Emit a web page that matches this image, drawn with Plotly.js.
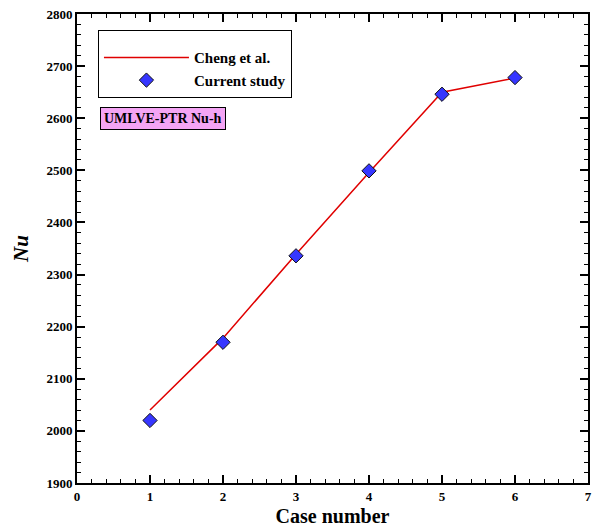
<!DOCTYPE html>
<html><head><meta charset="utf-8">
<script src="https://cdn.plot.ly/plotly-3.0.1.min.js"></script>
<style>html,body{margin:0;padding:0;background:#fff}#chart{width:595px;height:527px}</style>
</head><body><div id="chart"></div>
<script>
const caseNumbers = [1, 2, 3, 4, 5, 6];
const chengNu = [2040, 2178, 2339, 2496, 2650, 2677];
const currentNu = [2020, 2170, 2336, 2499, 2646, 2678];
const seriesNames = ["Cheng et al.", "Current study"];
const labelText = "UMLVE-PTR Nu-h";

const serif = "Liberation Serif, Times New Roman, serif";
const traces = [
  {x: caseNumbers, y: chengNu, name: seriesNames[0], mode: "lines",
   line: {color: "#e00000", width: 1.5}},
  {x: caseNumbers, y: currentNu, name: seriesNames[1], mode: "markers",
   marker: {symbol: "diamond", size: 11, color: "#3636ff", line: {color: "#111", width: 1}}}
];
const axisCommon = {
  showline: true, linecolor: "black", linewidth: 2, mirror: "ticks",
  ticks: "inside", ticklen: 8, tickwidth: 2, tickcolor: "black",
  showgrid: false, zeroline: false,
  tickfont: {family: serif, size: 13, color: "black", weight: "bold"}
};
const layout = {
  width: 595, height: 527,
  margin: {l: 77, r: 7, t: 14, b: 44},
  paper_bgcolor: "white", plot_bgcolor: "white",
  showlegend: true,
  xaxis: Object.assign({}, axisCommon, {
    range: [0, 7], dtick: 1, tick0: 0,
    minor: {ticks: "inside", ticklen: 4, tickwidth: 1, tickcolor: "black", dtick: 0.2},
    title: {text: "Case number", standoff: 7, font: {family: serif, size: 20, color: "black", weight: "bold"}}
  }),
  yaxis: Object.assign({}, axisCommon, {
    range: [1900, 2800], dtick: 100, tick0: 1900,
    minor: {ticks: "inside", ticklen: 4, tickwidth: 1, tickcolor: "black", dtick: 20},
    title: {text: "Nu", standoff: 12, font: {family: serif, size: 21, color: "black", weight: "bold", style: "italic"}}
  }),
  legend: {
    x: 0.041, y: 0.966, xanchor: "left", yanchor: "top",
    bordercolor: "black", borderwidth: 1, bgcolor: "white",
    itemwidth: 85,
    title: {text: " ", font: {family: serif, size: 8}},
    font: {family: serif, size: 15, color: "black", weight: "bold"},
    tracegroupgap: 0
  },
  annotations: [{
    text: labelText, xref: "paper", yref: "paper", x: 0.045, y: 0.802,
    xanchor: "left", yanchor: "top", showarrow: false,
    font: {family: serif, size: 14, color: "black", weight: "bold"},
    bgcolor: "#f4a4f4", bordercolor: "black", borderwidth: 1, borderpad: 3
  }]
};
Plotly.newPlot("chart", traces, layout, {displayModeBar: false, staticPlot: true});
</script></body></html>
